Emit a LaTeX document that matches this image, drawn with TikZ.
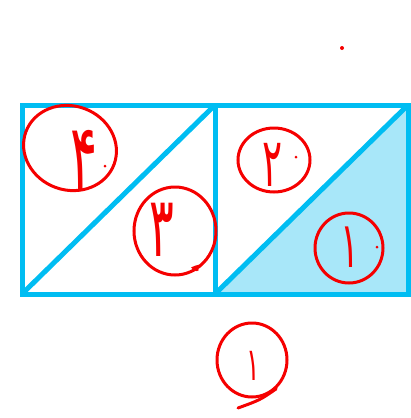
\documentclass[tikz,border=0pt]{standalone}
\usepackage{fontspec}
\usetikzlibrary{shapes.geometric}
\newfontfamily\farsifont[Script=Arabic]{DejaVu Sans}
\definecolor{edgeblue}{HTML}{00BDF2}
\definecolor{fillblue}{HTML}{A8E7F9}
\definecolor{penred}{HTML}{F50000}
\newcommand{\handnum}[1]{\scalebox{0.55}[1]{#1}}
\tikzstyle{sq-line} = [draw=edgeblue, line width=5pt]
\tikzstyle{num-ring} = [ellipse, draw=penred, line width=3pt, inner sep=0pt]
\tikzstyle{pen-stroke} = [draw=penred, line width=3pt, line cap=round]
\tikzstyle{pen-dot} = [circle, fill=penred, inner sep=0pt, minimum size=3pt]
\tikzset{num-digit/.style={text=penred, inner sep=0pt,
    font=\farsifont\fontsize{#1}{#1}\selectfont}}

\begin{document}
\begin{tikzpicture}[x=1pt,y=-1pt]
\useasboundingbox (0,0) rectangle (411,418);
\coordinate (tl) at (22,105);
\coordinate (tm) at (215,105);
\coordinate (tr) at (408,105);
\coordinate (bl) at (22,294);
\coordinate (bm) at (215,294);
\coordinate (br) at (408,294);
\fill[fillblue] (bm) -- (tr) -- (br) -- cycle;
\draw[sq-line] (tl) rectangle (br);
\draw[sq-line] (tm) -- (bm);
\draw[sq-line] (bl) -- (tm);
\draw[sq-line] (bm) -- (tr);

\node[num-ring, minimum width=94pt, minimum height=84pt, rotate=-20] (ring4) at (70,148) {};
\node[num-digit=92] (num4) at (84,160) {\handnum{۴}};
\node[pen-dot] (dot4) at (105,166) {};
\node[num-ring, minimum width=82pt, minimum height=88pt] (ring3) at (175,231) {};
\node[num-digit=84] (num3) at (162,230) {\handnum{۳}};
\node[num-ring, minimum width=72pt, minimum height=64pt] (ring2) at (274,160) {};
\node[num-digit=68] (num2) at (273,165) {\handnum{۲}};
\node[pen-dot] (dot2) at (296,157) {};
\node[num-ring, minimum width=68pt, minimum height=70pt] (ring1) at (349,248) {};
\node[num-digit=64] (num1) at (350,247) {\handnum{۱}};
\node[pen-dot] (dot1) at (377,247) {};
\node[num-ring, minimum width=70pt, minimum height=74pt] (ringb) at (252,360) {};
\node[num-digit=46] (numb) at (253,366) {\handnum{۱}};
\draw[pen-stroke] (ringb.-50) .. controls (260,400) .. (238,408);
\draw[pen-stroke] (ring3.-60) .. controls (192,268) .. (200,266);
\node[pen-dot, minimum size=4pt] (mark) at (342,48) {};
\end{tikzpicture}
\end{document}
